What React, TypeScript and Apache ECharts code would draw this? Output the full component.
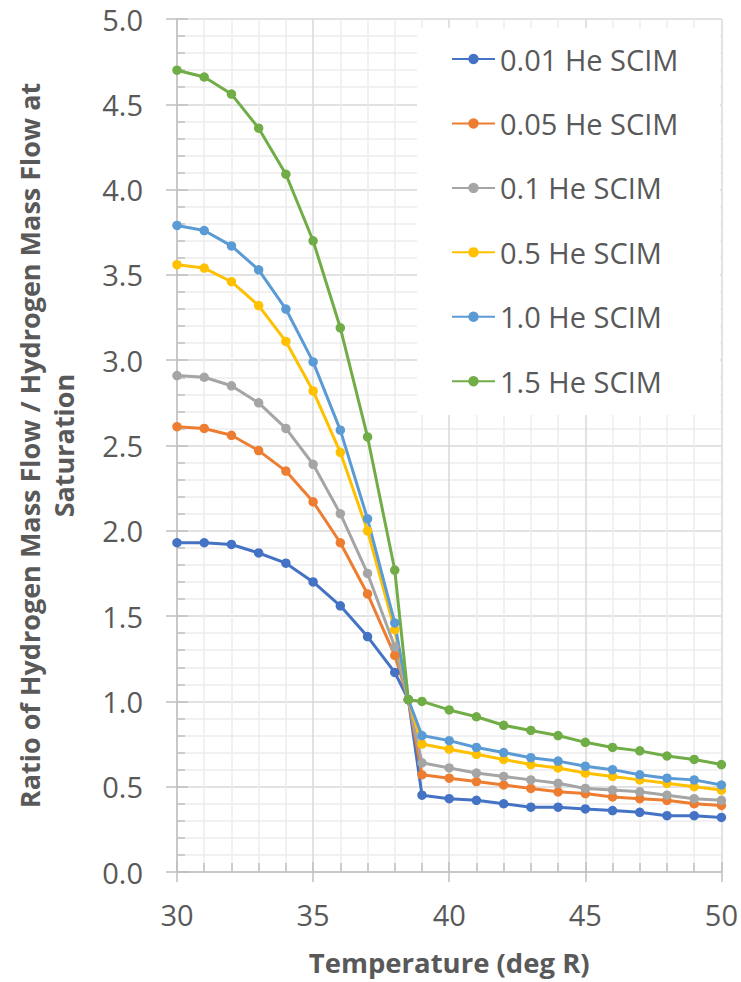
import React, { useEffect, useRef } from "react";
import * as echarts from "echarts";

const temperatures = [30, 31, 32, 33, 34, 35, 36, 37, 38, 38.5, 39, 40, 41, 42, 43, 44, 45, 46, 47, 48, 49, 50];

const seriesNames = ["0.01 He SCIM", "0.05 He SCIM", "0.1 He SCIM", "0.5 He SCIM", "1.0 He SCIM", "1.5 He SCIM"];
const seriesColors = ["#4472C4", "#ED7D31", "#A5A5A5", "#FFC000", "#5B9BD5", "#70AD47"];

const ratio001 = [1.93, 1.93, 1.92, 1.87, 1.81, 1.70, 1.56, 1.38, 1.17, 1.01, 0.45, 0.43, 0.42, 0.40, 0.38, 0.38, 0.37, 0.36, 0.35, 0.33, 0.33, 0.32];
const ratio005 = [2.61, 2.60, 2.56, 2.47, 2.35, 2.17, 1.93, 1.63, 1.27, 1.01, 0.57, 0.55, 0.53, 0.51, 0.49, 0.47, 0.46, 0.44, 0.43, 0.42, 0.40, 0.39];
const ratio01 = [2.91, 2.90, 2.85, 2.75, 2.60, 2.39, 2.10, 1.75, 1.32, 1.01, 0.64, 0.61, 0.58, 0.56, 0.54, 0.52, 0.49, 0.48, 0.47, 0.45, 0.43, 0.42];
const ratio05 = [3.56, 3.54, 3.46, 3.32, 3.11, 2.82, 2.46, 2.00, 1.42, 1.01, 0.75, 0.72, 0.69, 0.66, 0.63, 0.61, 0.58, 0.56, 0.54, 0.52, 0.50, 0.48];
const ratio10 = [3.79, 3.76, 3.67, 3.53, 3.30, 2.99, 2.59, 2.07, 1.46, 1.01, 0.80, 0.77, 0.73, 0.70, 0.67, 0.65, 0.62, 0.60, 0.57, 0.55, 0.54, 0.51];
const ratio15 = [4.70, 4.66, 4.56, 4.36, 4.09, 3.70, 3.19, 2.55, 1.77, 1.01, 1.00, 0.95, 0.91, 0.86, 0.83, 0.80, 0.76, 0.73, 0.71, 0.68, 0.66, 0.63];

const xTitle = "Temperature (deg R)";
const yTitle = "Ratio of Hydrogen Mass Flow / Hydrogen Mass Flow at\nSaturation";

export default function App() {
  const ref = useRef<HTMLDivElement>(null);
  useEffect(() => {
    if (!ref.current) return;
    const chart = echarts.init(ref.current, null, { renderer: "svg" });
    const font = "'Open Sans', sans-serif";
    const textColor = "#595959";
    const majorGrid = "#d9d9d9";
    const minorGrid = "#ececec";
    const axisColor = "#bfbfbf";
    const allSeries = [ratio001, ratio005, ratio01, ratio05, ratio10, ratio15];

    const xBase = { type: "value", min: 30, max: 50, interval: 5, gridIndex: 0, position: "bottom" };
    const yBase = { type: "value", min: 0, max: 5, interval: 0.5, gridIndex: 0, position: "left" };

    chart.setOption({
      animation: false,
      backgroundColor: "#ffffff",
      color: seriesColors,
      textStyle: { fontFamily: font },
      grid: { left: 177, right: 19, top: 19, bottom: 110, containLabel: false },
      graphic: [
        {
          type: "rect",
          z: 1,
          shape: { x: 417, y: 28, width: 303, height: 387 },
          style: { fill: "#ffffff" },
        },
      ],
      legend: {
        orient: "vertical",
        left: 451,
        top: 39,
        padding: 0,
        itemWidth: 43,
        itemHeight: 13,
        itemGap: 24.45,
        z: 5,
        textStyle: { fontSize: 29, color: textColor, lineHeight: 40, fontFamily: font },
        data: seriesNames,
      },
      xAxis: [
        {
          ...xBase,
          name: xTitle,
          nameLocation: "middle",
          nameGap: 76,
          nameTextStyle: { fontSize: 27.5, fontWeight: "bold", color: textColor, fontFamily: font },
          axisLine: { show: true, lineStyle: { color: axisColor, width: 1.5 } },
          axisTick: { show: true, inside: false, length: 10, lineStyle: { color: axisColor, width: 1.5 } },
          minorTick: { show: false, splitNumber: 5 },
          axisLabel: { show: true, fontSize: 29, color: textColor, margin: 28, fontFamily: font },
          splitLine: { show: true, lineStyle: { color: majorGrid, width: 1.5 } },
          minorSplitLine: { show: true, lineStyle: { color: minorGrid, width: 1.5 } },
        },
        {
          ...xBase,
          axisLine: { show: false },
          axisTick: { show: true, inside: true, length: 10, lineStyle: { color: axisColor, width: 1.5 } },
          minorTick: { show: true, splitNumber: 5, length: 9, lineStyle: { color: axisColor, width: 1.5 } },
          axisLabel: { show: false },
          splitLine: { show: false },
        },
      ],
      yAxis: [
        {
          ...yBase,
          name: yTitle,
          nameLocation: "middle",
          nameRotate: 90,
          nameGap: 97,
          nameTextStyle: { fontSize: 27, fontWeight: "bold", color: textColor, fontFamily: font, lineHeight: 34 },
          axisLine: { show: true, lineStyle: { color: axisColor, width: 1.5 } },
          axisTick: { show: true, inside: false, length: 11, lineStyle: { color: axisColor, width: 1.5 } },
          minorTick: { show: false, splitNumber: 5 },
          axisLabel: {
            show: true,
            fontSize: 29,
            color: textColor,
            margin: 34,
            fontFamily: font,
            formatter: (v: number) => v.toFixed(1),
          },
          splitLine: { show: true, lineStyle: { color: majorGrid, width: 1.5 } },
          minorSplitLine: { show: true, lineStyle: { color: minorGrid, width: 1.5 } },
        },
        {
          ...yBase,
          axisLine: { show: false },
          axisTick: { show: true, inside: true, length: 11, lineStyle: { color: axisColor, width: 1.5 } },
          minorTick: { show: true, splitNumber: 5, length: 8, lineStyle: { color: axisColor, width: 1.5 } },
          axisLabel: { show: false },
          splitLine: { show: false },
        },
      ],
      series: seriesNames.map((name, i) => ({
        name,
        type: "line",
        xAxisIndex: 0,
        yAxisIndex: 0,
        data: temperatures.map((t, j) => [t, allSeries[i][j]]),
        symbol: "circle",
        symbolSize: 9.5,
        showSymbol: true,
        smooth: false,
        lineStyle: { width: 3, color: seriesColors[i] },
        itemStyle: { color: seriesColors[i] },
        z: 3,
      })),
    });
    return () => chart.dispose();
  }, []);
  return <div ref={ref} style={{ position: "fixed", left: 0, top: 0, width: 741, height: 982 }} />;
}
